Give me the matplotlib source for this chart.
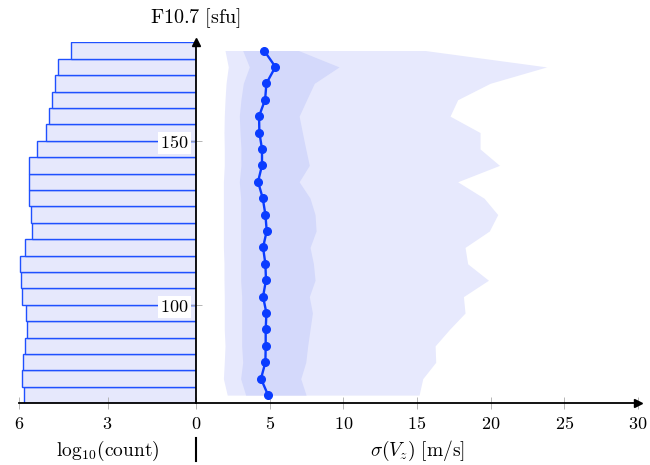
import matplotlib
matplotlib.use("Agg")
import matplotlib.pyplot as plt
from matplotlib.lines import Line2D

plt.rcParams["mathtext.fontset"] = "cm"

# F10.7 bin centres (sfu), bottom -> top, bins are 5 sfu wide
f107 = [72.5, 77.5, 82.5, 87.5, 92.5, 97.5, 102.5, 107.5, 112.5, 117.5, 122.5,
        127.5, 132.5, 137.5, 142.5, 147.5, 152.5, 157.5, 162.5, 167.5, 172.5, 177.5]
bin_width = 5

# log10 of number of samples per bin
log_count = [5.83, 5.89, 5.88, 5.80, 5.72, 5.77, 5.91, 5.94, 5.97, 5.80, 5.56,
             5.59, 5.67, 5.67, 5.66, 5.40, 5.08, 4.98, 4.89, 4.78, 4.67, 4.23]

# sigma(Vz) median and spread bands [m/s]
sigma_med = [4.89, 4.41, 4.71, 4.73, 4.73, 4.78, 4.55, 4.75, 4.71, 4.55, 4.80,
             4.71, 4.53, 4.21, 4.48, 4.48, 4.30, 4.28, 4.69, 4.78, 5.39, 4.62]
inner_lo = [3.37, 3.03, 3.17, 3.10, 3.10, 3.10, 3.10, 3.03, 3.03, 3.03, 3.03,
            3.03, 3.03, 2.94, 3.05, 3.05, 2.99, 2.94, 3.05, 3.21, 3.62, 3.17]
inner_hi = [7.47, 7.11, 7.45, 7.58, 7.74, 7.90, 7.69, 8.08, 7.97, 7.74, 8.15,
            8.08, 7.74, 7.00, 7.69, 7.45, 7.22, 7.00, 7.51, 8.03, 9.71, 6.95]
outer_lo = [2.12, 1.86, 1.92, 1.97, 1.92, 1.92, 1.92, 1.90, 1.90, 1.86, 1.86,
            1.86, 1.86, 1.86, 1.92, 1.92, 1.90, 1.92, 1.97, 2.04, 2.19, 1.97]
outer_hi = [15.14, 15.39, 16.27, 16.23, 17.20, 18.26, 18.15, 19.85, 18.44, 18.26, 19.91,
            20.48, 19.55, 17.76, 20.60, 19.28, 19.28, 17.24, 17.76, 19.96, 23.80, 15.55]

left_ticks = [6, 3, 0]
right_ticks = [5, 10, 15, 20, 25, 30]
y_ticks = [100, 150]

BLUE = "#0a3cff"
W, H = 650, 465

fig = plt.figure(figsize=(W / 100, H / 100), dpi=100)
y0, y1 = 403.3, 42.3
bottom = 1 - y0 / H
height = (y0 - y1) / H
axl = fig.add_axes([19 / W, bottom, (196 - 19) / W, height])
axr = fig.add_axes([196 / W, bottom, (638 - 196) / W, height])
axr.set_facecolor("none")

# histogram (left)
axl.barh(f107, log_count, height=bin_width, left=0, color="#e6e8fc",
         edgecolor="#1f50ff", linewidth=1.0, zorder=1)
axl.set_xlim(6, 0)
axl.set_ylim(70, 180)
axl.set_xticks(left_ticks)
axl.set_xticklabels([f"${v}$" for v in left_ticks])
axl.set_yticks([])
for s in ("top", "right", "left"):
    axl.spines[s].set_visible(False)
axl.spines["bottom"].set_linewidth(1.3)
axl.tick_params(axis="x", direction="inout", length=9, width=0.6, colors="#aaaaaa",
                labelcolor="black", labelsize=13, pad=4)

# sigma(Vz) (right)
axr.fill_betweenx(f107, outer_lo, outer_hi, color="#e7e9fd", linewidth=0, zorder=1)
axr.fill_betweenx(f107, inner_lo, inner_hi, color="#d4d9fb", linewidth=0, zorder=2)
axr.plot(sigma_med, f107, color=BLUE, lw=1.7, marker="o", ms=5.5, zorder=3)
axr.set_xlim(0, 30)
axr.set_ylim(70, 180)
axr.set_xticks(right_ticks)
axr.set_xticklabels([f"${v}$" for v in right_ticks])
axr.set_yticks(y_ticks)
axr.set_yticklabels([f"${v}$" for v in y_ticks])
for s in ("top", "right"):
    axr.spines[s].set_visible(False)
axr.spines["bottom"].set_linewidth(1.3)
axr.spines["left"].set_linewidth(1.3)
axr.tick_params(axis="both", direction="inout", length=9, width=0.6, colors="#aaaaaa",
                labelcolor="black", labelsize=13)
axr.tick_params(axis="x", pad=4)
axr.tick_params(axis="y", pad=1)
for lbl in axr.get_yticklabels():
    lbl.set_bbox(dict(facecolor="white", edgecolor="none", pad=1.5))

# arrow heads
axr.plot(1, 0, marker=">", ms=6, color="k", transform=axr.transAxes, clip_on=False, zorder=5)
axr.plot(0, 1, marker="^", ms=6, color="k", transform=axr.transAxes, clip_on=False, zorder=5)

# labels
fig.text(195 / W, 1 - 18 / H, r"$\mathrm{F10.7\ [sfu]}$", ha="center", va="center", fontsize=14.5)
fig.text(107.5 / W, 1 - 451 / H, r"$\mathrm{log}_{10}(\mathrm{count})$", ha="center", va="center", fontsize=14)
fig.text(417 / W, 1 - 451 / H, r"$\sigma(V_z)\ [\mathrm{m/s}]$", ha="center", va="center", fontsize=14)
fig.add_artist(Line2D([196 / W, 196 / W], [1 - 438 / H, 1 - 461 / H], color="k", lw=1.5))

fig.savefig("out.png", dpi=100)
